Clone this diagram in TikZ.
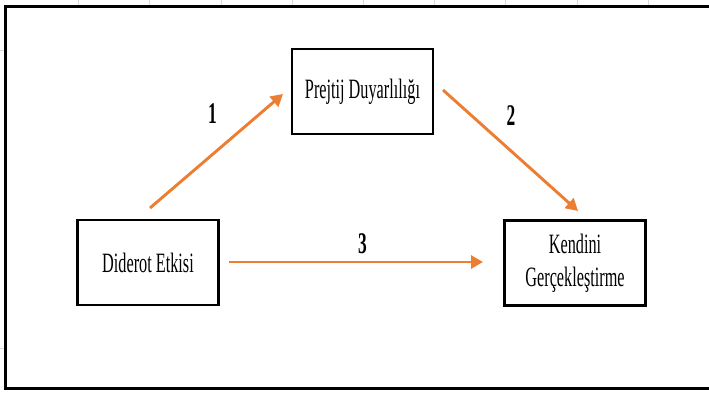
\documentclass[tikz,border=0pt]{standalone}
\usepackage{fontspec}
\setmainfont{Liberation Serif}
\newfontfamily\narrowfont[FakeStretch=0.58]{Liberation Serif}
\usetikzlibrary{arrows.meta}
\definecolor{arroworange}{HTML}{ED7D31}
\definecolor{gridgray}{HTML}{D9D9D9}
\tikzset{
  varbox/.style={draw=black, line width=2.8pt, minimum width=141pt, minimum height=85pt,
    inner sep=0pt, align=center, font=\narrowfont\fontsize{28}{33}\selectfont},
  patharrow/.style={draw=arroworange, line width=2.9pt,
    -{Triangle[length=12pt,width=13pt]}},
  pathlabel/.style={font=\narrowfont\bfseries\fontsize{30}{30}\selectfont, inner sep=0pt}
}
\begin{document}
\begin{tikzpicture}[x=1pt,y=-1pt]
\useasboundingbox (0,0) rectangle (709,393);
\fill[white] (0,0) rectangle (709,393);
% faint spreadsheet grid in the margins
\foreach \gx in {78,149,221,292,363,434,505,577,648}
  \draw[gridgray, line width=0.8pt] (\gx,0) -- (\gx,5);
\foreach \gy in {50,348}
  \draw[gridgray, line width=0.8pt] (0,\gy) -- (4,\gy);
% outer frame
\draw[black, line width=3pt] (712,6.5) -- (5.5,6.5) -- (5.5,388) -- (712,388);
% boxes
\node[varbox] (pd) at (362.5,91.5) {Prejtij Duyarlılığı};
\node[varbox] (de) at (148,262.5) {Diderot Etkisi};
\node[varbox] (kg) at (575,263) {Kendini\\Gerçekleştirme};
% arrow end points
\coordinate (a1s) at (150,208);
\coordinate (a1e) at (283,94);
\coordinate (a2s) at (443,90);
\coordinate (a2e) at (578,211);
\coordinate (a3s) at (229,262);
\coordinate (a3e) at (483,262);
\draw[patharrow] (a1s) -- (a1e);
\draw[patharrow] (a2s) -- (a2e);
\draw[patharrow] (a3s) -- (a3e);
% labels
\node[pathlabel] (l1) at (212.5,114) {1};
\node[pathlabel] (l2) at (511,116) {2};
\node[pathlabel] (l3) at (362.5,243.5) {3};
\end{tikzpicture}
\end{document}
